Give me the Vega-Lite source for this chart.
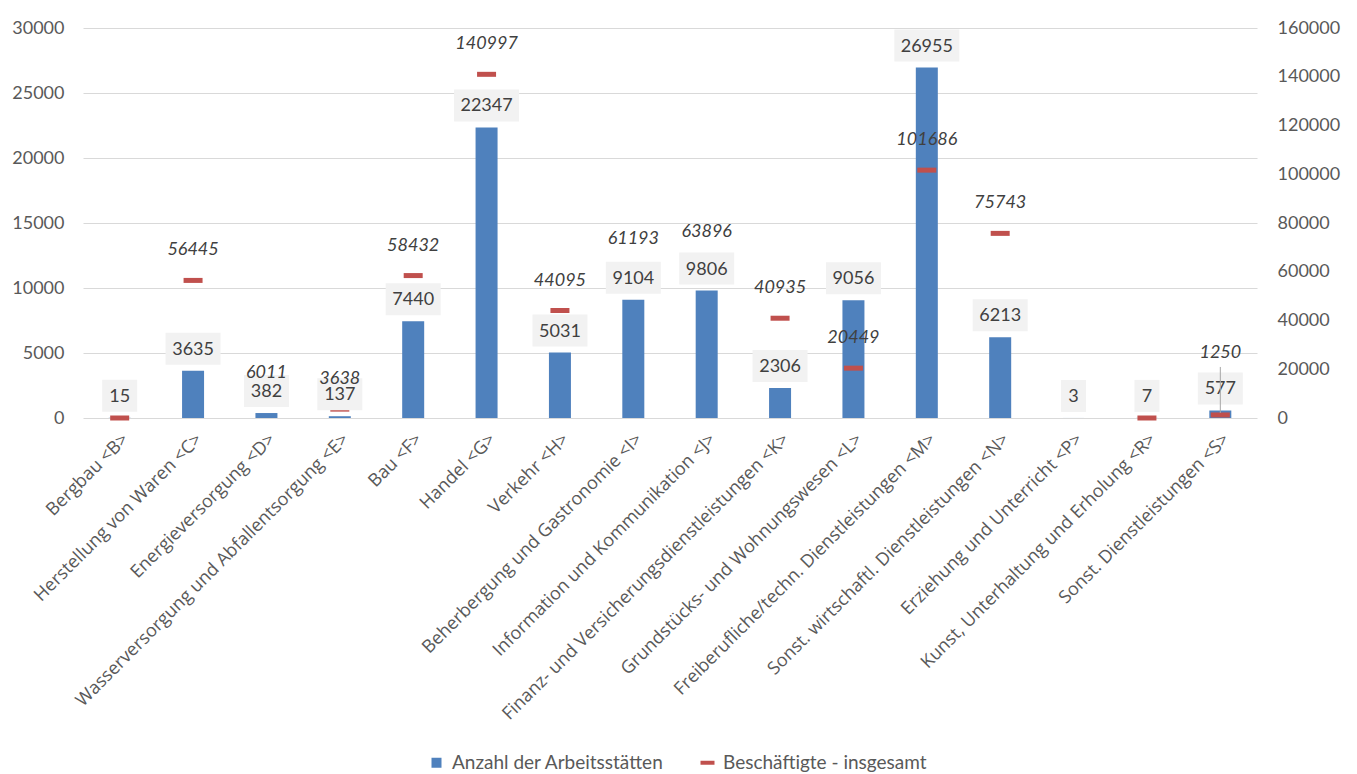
{
  "$schema": "https://vega.github.io/schema/vega-lite/v6.json",
  "width": 1174,
  "height": 390,
  "autosize": "none",
  "padding": {"left": 83, "top": 28, "right": 100, "bottom": 356},
  "background": "white",
  "config": {"font": "Lato", "view": {"stroke": null}},
  "data": {"values": [
    {"cat": "Bergbau <B>", "A": 15, "E": 0},
    {"cat": "Herstellung von Waren <C>", "A": 3635, "E": 56445},
    {"cat": "Energieversorgung <D>", "A": 382, "E": 6011},
    {"cat": "Wasserversorgung und Abfallentsorgung <E>", "A": 137, "E": 3638},
    {"cat": "Bau <F>", "A": 7440, "E": 58432},
    {"cat": "Handel <G>", "A": 22347, "E": 140997},
    {"cat": "Verkehr <H>", "A": 5031, "E": 44095},
    {"cat": "Beherbergung und Gastronomie <I>", "A": 9104, "E": 61193},
    {"cat": "Information und Kommunikation <J>", "A": 9806, "E": 63896},
    {"cat": "Finanz- und Versicherungsdienstleistungen <K>", "A": 2306, "E": 40935},
    {"cat": "Grundstücks- und Wohnungswesen <L>", "A": 9056, "E": 20449},
    {"cat": "Freiberufliche/techn. Dienstleistungen <M>", "A": 26955, "E": 101686},
    {"cat": "Sonst. wirtschaftl. Dienstleistungen <N>", "A": 6213, "E": 75743},
    {"cat": "Erziehung und Unterricht <P>", "A": 3, "E": null},
    {"cat": "Gesundheits- und Sozialwesen <Q>", "A": null, "E": null},
    {"cat": "Kunst, Unterhaltung und Erholung <R>", "A": 7, "E": 0},
    {"cat": "Sonst. Dienstleistungen <S>", "A": 577, "E": 1250}
  ]},
  "encoding": {
    "x": {
      "field": "cat", "type": "nominal", "sort": null,
      "scale": {"paddingInner": 0, "paddingOuter": 0},
      "axis": {"labelAngle": -45, "labelAlign": "right", "labelBaseline": "top", "labelFontSize": 18, "labelColor": "#595959", "ticks": false, "domain": false, "title": null, "labelPadding": 12, "labelLimit": 600, "labelFont": "Open Sans"}
    }
  },
  "layer": [
    {
      "encoding": {
        "y": {
          "field": "A", "type": "quantitative",
          "scale": {"domain": [0, 30000], "nice": false},
          "axis": {"values": [0, 5000, 10000, 15000, 20000, 25000, 30000], "format": "d", "title": null, "ticks": false, "domain": false, "grid": true, "gridColor": "#D9D9D9", "gridWidth": 1, "labelFontSize": 18, "labelColor": "#595959", "labelPadding": 19, "labelFont": "Lato"}
        }
      },
      "layer": [
        {
          "transform": [{"filter": "datum.A != null"}],
          "mark": {"type": "bar", "width": 22},
          "encoding": {
            "color": {"datum": "Anzahl der Arbeitsstätten", "type": "nominal",
              "scale": {"domain": ["Anzahl der Arbeitsstätten", "Beschäftigte - insgesamt"], "range": ["#4F81BD", "#C0504D"]},
              "legend": {"orient": "none", "direction": "horizontal", "legendX": 344, "legendY": 725, "title": null, "labelFontSize": 19, "labelColor": "#595959", "labelFont": "Lato", "labelLimit": 0, "symbolSize": 100, "columnPadding": 34, "labelOffset": 6,
                "encode": {"symbols": {"update": {
                  "shape": {"signal": "datum.value == 'Beschäftigte - insgesamt' ? 'M-1.4,-0.4H1.4V0.4H-1.4Z' : 'square'"},
                  "fill": {"signal": "datum.value == 'Beschäftigte - insgesamt' ? '#C0504D' : '#4F81BD'"},
                  "strokeWidth": {"value": 0},
                  "opacity": {"value": 1}
                }}}
              }
            }
          }
        }
      ]
    },
    {
      "encoding": {
        "y": {
          "field": "E", "type": "quantitative",
          "scale": {"domain": [0, 160000], "nice": false},
          "axis": {"orient": "right", "values": [0, 20000, 40000, 60000, 80000, 100000, 120000, 140000, 160000], "format": "d", "title": null, "ticks": false, "domain": false, "grid": false, "labelFontSize": 18, "labelColor": "#595959", "labelPadding": 20, "labelFont": "Lato"}
        }
      },
      "layer": [
        {
          "transform": [{"filter": "datum.E != null"}],
          "mark": {"type": "tick", "orient": "horizontal", "size": 19, "thickness": 5, "opacity": 1},
          "encoding": {
            "color": {"datum": "Beschäftigte - insgesamt", "type": "nominal",
              "scale": {"domain": ["Anzahl der Arbeitsstätten", "Beschäftigte - insgesamt"], "range": ["#4F81BD", "#C0504D"]}}
          }
        }
      ]
    },
    {
      "encoding": {
        "y": {"field": "A", "type": "quantitative", "scale": {"domain": [0, 30000], "nice": false}, "axis": null}
      },
      "layer": [
        {
          "transform": [{"filter": "datum.A != null"}, {"calculate": "10 * length(toString(datum.A)) + 15", "as": "boxw"}],
          "mark": {"type": "bar", "color": "#F2F2F2", "yOffset": -38, "y2Offset": -6},
          "encoding": {
            "y2": {"field": "A"},
            "size": {"field": "boxw", "type": "quantitative", "scale": null, "legend": null}
          }
        },
        {
          "transform": [{"filter": "datum.A != null"}],
          "mark": {"type": "text", "dy": -21, "baseline": "middle", "fontSize": 18, "color": "#404040", "font": "Lato"},
          "encoding": {"text": {"field": "A", "type": "quantitative", "format": "d"}}
        }
      ]
    },
    {
      "encoding": {
        "y": {"field": "E", "type": "quantitative", "scale": {"domain": [0, 160000], "nice": false}, "axis": null}
      },
      "layer": [
        {
          "transform": [{"filter": "datum.cat == 'Sonst. Dienstleistungen <S>'"}],
          "mark": {"type": "rule", "color": "#A6A6A6", "strokeWidth": 1, "yOffset": -2, "y2Offset": -48},
          "encoding": {"y2": {"field": "E"}}
        },
        {
          "transform": [{"filter": "datum.E > 0 && datum.cat != 'Sonst. Dienstleistungen <S>'"}],
          "mark": {"type": "text", "dy": -30, "baseline": "middle", "fontSize": 18, "fontStyle": "italic", "color": "#404040", "font": "Lato"},
          "encoding": {"text": {"field": "E", "type": "quantitative", "format": "d"}}
        },
        {
          "transform": [{"filter": "datum.cat == 'Sonst. Dienstleistungen <S>'"}],
          "mark": {"type": "text", "dy": -62, "baseline": "middle", "fontSize": 18, "fontStyle": "italic", "color": "#404040", "font": "Lato"},
          "encoding": {"text": {"field": "E", "type": "quantitative", "format": "d"}}
        }
      ]
    }
  ],
  "resolve": {"scale": {"y": "independent"}}
}
